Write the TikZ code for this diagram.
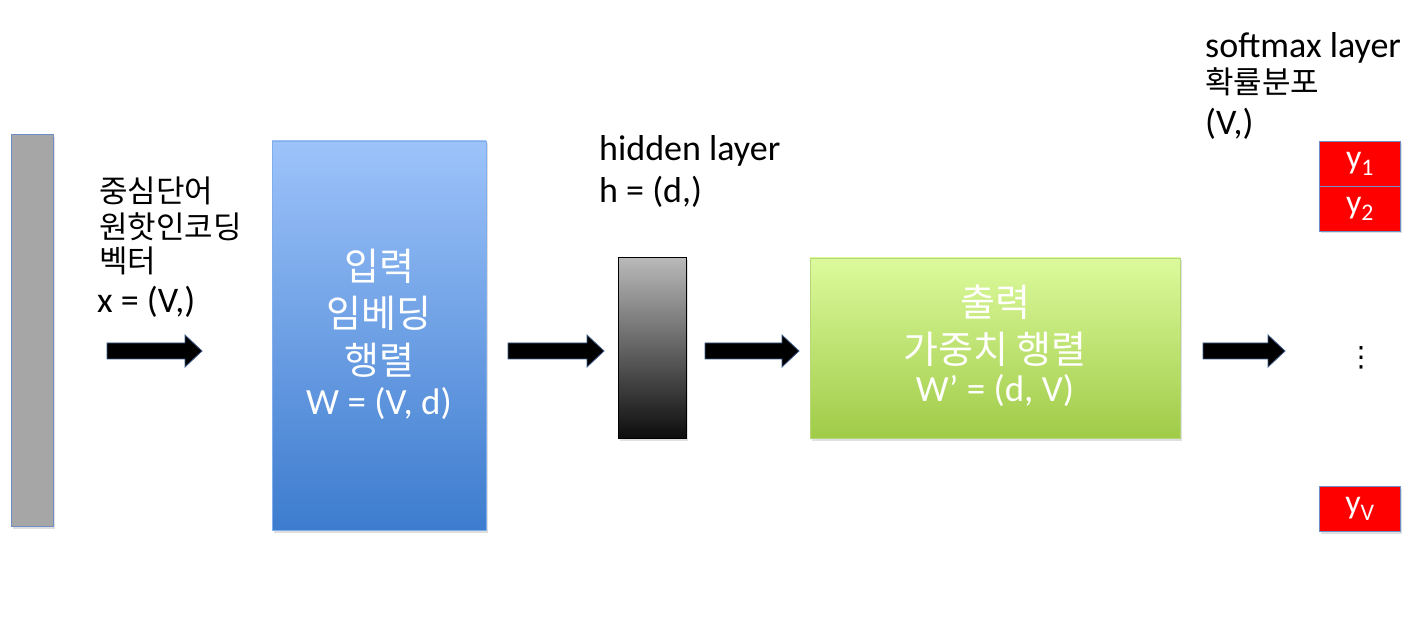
\documentclass[tikz,border=0pt]{standalone}
\usepackage{fontspec}
\setmainfont{Carlito}
\newfontfamily\kr{Noto Sans CJK KR}
\newfontfamily\dv{DejaVu Sans}
\usetikzlibrary{shadows}
\definecolor{barblue}{HTML}{6E8FC4}
\definecolor{bluetop}{HTML}{9DC3FA}
\definecolor{bluebot}{HTML}{3D7CCE}
\definecolor{greentop}{HTML}{DCFA9C}
\definecolor{greenbot}{HTML}{A0CB48}
\definecolor{greenedge}{HTML}{B6D67A}
\definecolor{redbox}{HTML}{FF0000}
\definecolor{arrowedge}{HTML}{3B5A8A}
\tikzset{
  box/.style={rectangle, anchor=north west, inner sep=0pt, outer sep=0pt,
    drop shadow={shadow xshift=1.5pt, shadow yshift=-2.5pt, opacity=0.25}},
  lbl/.style={anchor=base west, inner sep=0pt, text=black},
  wlbl/.style={anchor=base, inner sep=0pt, text=white},
  krf/.style={font=\kr\fontsize{31}{33}\selectfont},
  ltf/.style={font=\fontsize{36}{40}\selectfont},
  krb/.style={font=\kr\fontsize{38}{40}\selectfont},
  ltb/.style={font=\fontsize{37}{40}\selectfont},
  ybox/.style={rectangle, anchor=north west, inner sep=0pt, fill=redbox, draw=barblue, line width=1pt,
    minimum width=81pt, minimum height=45pt, text=white, font=\fontsize{34}{36}\selectfont,
    drop shadow={shadow xshift=1.5pt, shadow yshift=-2pt, opacity=0.25}},
  fatarrow/.style={fill=black, draw=arrowedge, line width=0.8pt, line join=miter}
}
\newcommand\fatarrow[3]{%
  \filldraw[fatarrow] (#1,#3-8) -- (#2-17,#3-8) -- (#2-17,#3-16) -- (#2,#3) -- (#2-17,#3+16) -- (#2-17,#3+8) -- (#1,#3+8) -- cycle;}
\begin{document}
\begin{tikzpicture}[x=1pt,y=-1pt]
\useasboundingbox (0,0) rectangle (1406,628);
% input one-hot bar
\node[box, fill=gray!70, draw=barblue, line width=1pt, minimum width=42pt, minimum height=391pt] (xbar) at (11,135) {};
\node[lbl,krf] (t1) at (99,203) {중심단어};
\node[lbl,krf] (t2) at (99,239) {원핫인코딩};
\node[lbl,krf] (t3) at (99,273) {벡터};
\node[lbl,ltf] (t4) at (97,313) {x = (V,)};
\fatarrow{107}{202}{351}
% input embedding matrix
\node[box, top color=bluetop, bottom color=bluebot, draw=bluetop!70!bluebot, line width=0.8pt, minimum width=214pt, minimum height=389pt] (W) at (272,141) {};
\node[wlbl,krb] (w1) at (379,281) {입력};
\node[wlbl,krb] (w2) at (379,328) {임베딩};
\node[wlbl,krb] (w3) at (379,374) {행렬};
\node[wlbl,ltb] (w4) at (379,414) {W = (V, d)};
\fatarrow{508}{604}{351}
% hidden layer
\node[lbl,ltf] (h1) at (599,161) {hidden layer};
\node[lbl,ltf] (h2) at (599,203) {h = (d,)};
\node[box, top color=gray!55, bottom color=black!95, draw=black, line width=1pt, minimum width=68pt, minimum height=180pt] (h) at (618,258) {};
\fatarrow{705}{799}{351}
% output weight matrix
\node[box, top color=greentop, bottom color=greenbot, draw=greenedge, line width=0.8pt, minimum width=370pt, minimum height=180pt] (Wp) at (810,258) {};
\node[wlbl,krb] (g1) at (995,317) {출력};
\node[wlbl,krb] (g2) at (995,363) {가중치 행렬};
\node[wlbl,ltb] (g3) at (995,401) {W’ = (d, V)};
\fatarrow{1203}{1285}{351}
% softmax layer
\node[lbl,ltf] (s1) at (1205,58) {softmax layer};
\node[lbl,krf] (s2) at (1205,94) {확률분포};
\node[lbl,ltf] (s3) at (1205,135) {(V,)};
\node[ybox] (y1) at (1319,141) {y\textsubscript{1}};
\node[ybox] (y2) at (1319,186) {y\textsubscript{2}};
\node[ybox] (yV) at (1319,486) {y\textsubscript{V}};
\node[inner sep=0pt, font=\dv\fontsize{28}{30}\selectfont] (dots) at (1361,358) {⋮};
\end{tikzpicture}
\end{document}
